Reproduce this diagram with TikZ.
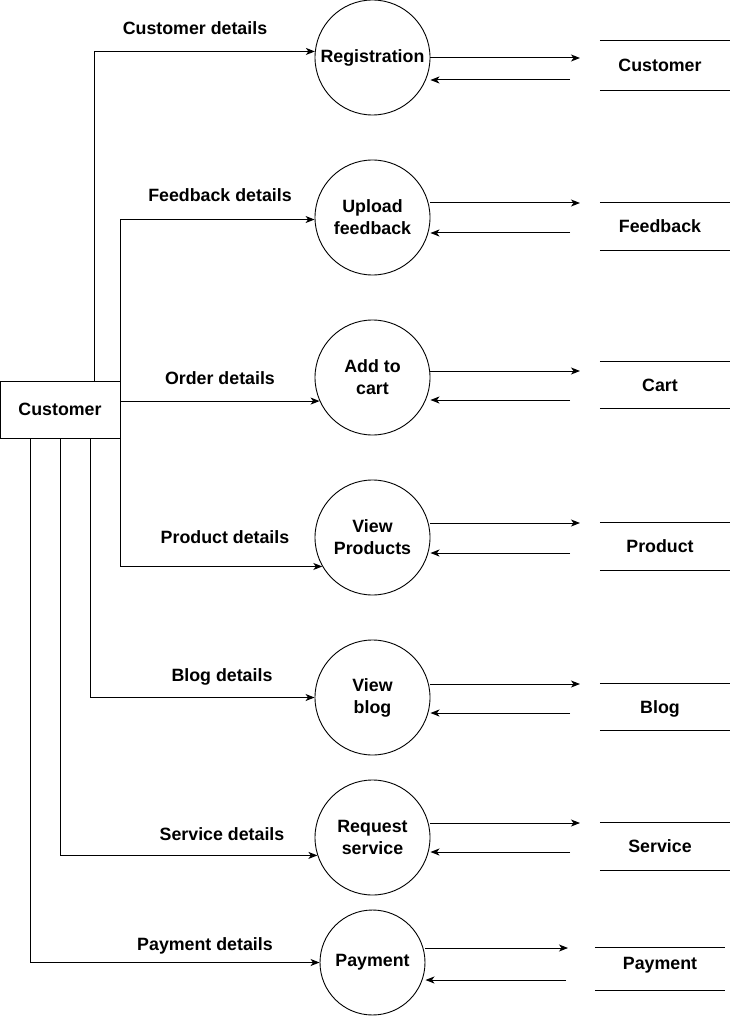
\documentclass[tikz,border=0pt]{standalone}
\usepackage{fontspec}
\setmainfont{Liberation Sans}
\usetikzlibrary{arrows.meta}

\begin{document}
\begin{tikzpicture}[x=1pt, y=-1pt,
  every node/.style={font=\fontsize{17.8}{22}\selectfont\bfseries},
  proc/.style={shape=circle, draw=black, line width=0.9pt, minimum size=115pt, inner sep=0pt, align=center},
  ent/.style={shape=rectangle, draw=black, line width=1pt, minimum width=120pt, minimum height=57pt},
  store/.style={minimum width=120pt, minimum height=47pt, inner sep=0pt, text height=12.7pt, text depth=0pt},
  lbl/.style={text height=12.7pt, text depth=0pt, inner sep=0pt},
  flow/.style={-{Stealth[length=9pt, width=7pt, inset=2.5pt]}, line width=1pt, draw=black}]
\useasboundingbox (0,0) rectangle (732,1016);
\node[proc] (reg) at (372.5,57.5) {Registration};
\node[proc] (upl) at (372.5,217.5) {Upload\\feedback};
\node[proc] (cart) at (372.5,377.5) {Add to\\cart};
\node[proc] (prod) at (372.5,537.5) {View\\Products};
\node[proc] (blog) at (372.5,697.5) {View\\blog};
\node[proc] (serv) at (372.5,837.5) {Request\\service};
\node[proc, minimum size=105pt] (pay) at (372.5,962.5) {Payment};
\node[ent] (cust) at (60,409.5) {Customer};
\node[store, minimum height=49pt] (sCust) at (660,65.5) {Customer};
\node[store] (sFeed) at (660,226.5) {Feedback};
\node[store] (sCart) at (660,385) {Cart};
\node[store] (sProd) at (660,546.5) {Product};
\node[store] (sBlog) at (660,707) {Blog};
\node[store] (sServ) at (660,846.5) {Service};
\node[store, minimum width=130pt, minimum height=42pt, text depth=12.5pt] (sPay) at (660,969) {Payment};
\draw[line width=1pt] (sCust.north west) -- ++(130,0) (sCust.south west) -- ++(130,0);
\draw[line width=1pt] (sFeed.north west) -- ++(130,0) (sFeed.south west) -- ++(130,0);
\draw[line width=1pt] (sCart.north west) -- ++(130,0) (sCart.south west) -- ++(130,0);
\draw[line width=1pt] (sProd.north west) -- ++(130,0) (sProd.south west) -- ++(130,0);
\draw[line width=1pt] (sBlog.north west) -- ++(130,0) (sBlog.south west) -- ++(130,0);
\draw[line width=1pt] (sServ.north west) -- ++(130,0) (sServ.south west) -- ++(130,0);
\draw[line width=1pt] (sPay.north west) -- ++(130,0) (sPay.south west) -- ++(130,0);
\node[lbl] (lReg) at (195,28) {Customer details};
\node[lbl] (lUpl) at (220,195) {Feedback details};
\node[lbl] (lCart) at (220,378) {Order details};
\node[lbl] (lProd) at (225,537.5) {Product details};
\node[lbl] (lBlog) at (222,675) {Blog details};
\node[lbl] (lServ) at (222,834.5) {Service details};
\node[lbl] (lPay) at (205,944.5) {Payment details};
\draw[flow] ([xshift=34pt]cust.north) |- (reg.174);
\draw[flow] (cust.north east) |- (upl.182);
\draw[flow] (cust.east |- cart.204) -- (cart.204);
\draw[flow] (cust.south east) |- (prod.210);
\draw[flow] ([xshift=30pt]cust.south) |- (blog.west);
\draw[flow] (cust.south) |- (serv.198);
\draw[flow] ([xshift=-30pt]cust.south) |- (pay.west);
\coordinate (regO) at (580,58);
\coordinate (regI) at (570,80);
\coordinate (uplO) at (580,203);
\coordinate (uplI) at (570,233);
\coordinate (cartO) at (580,371);
\coordinate (cartI) at (570,400);
\coordinate (prodO) at (580,523);
\coordinate (prodI) at (570,553);
\coordinate (blogO) at (580,684);
\coordinate (blogI) at (570,713);
\coordinate (servO) at (580,823);
\coordinate (servI) at (570,852);
\coordinate (payO) at (568,948);
\coordinate (payI) at (566,980);
\draw[flow] (reg.east |- regO) -- (regO);
\draw[flow] (regI) -- (regI -| reg.east);
\draw[flow] (upl.east |- uplO) -- (uplO);
\draw[flow] (uplI) -- (uplI -| upl.east);
\draw[flow] (cart.east |- cartO) -- (cartO);
\draw[flow] (cartI) -- (cartI -| cart.east);
\draw[flow] (prod.east |- prodO) -- (prodO);
\draw[flow] (prodI) -- (prodI -| prod.east);
\draw[flow] (blog.east |- blogO) -- (blogO);
\draw[flow] (blogI) -- (blogI -| blog.east);
\draw[flow] (serv.east |- servO) -- (servO);
\draw[flow] (servI) -- (servI -| serv.east);
\draw[flow] (pay.east |- payO) -- (payO);
\draw[flow] (payI) -- (payI -| pay.east);
\end{tikzpicture}
\end{document}
